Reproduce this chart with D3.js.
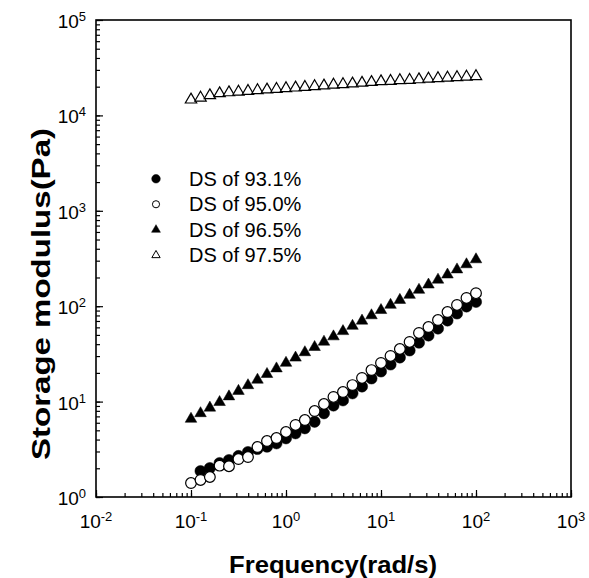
<!DOCTYPE html>
<html>
<head>
<meta charset="utf-8">
<script src="https://cdn.jsdelivr.net/npm/d3@7"></script>
<style>
body { margin: 0; background: #fff; }
text { font-family: Arial, "Liberation Sans", sans-serif; fill: #000; }
</style>
</head>
<body>
<svg id="chart" width="589" height="578"></svg>
<script>
// frequency (rad/s), 10 points per decade
const freq = [0.1, 0.126, 0.158, 0.2, 0.251, 0.316, 0.398, 0.501, 0.631, 0.794,
  1, 1.26, 1.58, 2, 2.51, 3.16, 3.98, 5.01, 6.31, 7.94,
  10, 12.6, 15.8, 20, 25.1, 31.6, 39.8, 50.1, 63.1, 79.4, 100];

// storage modulus (Pa)
const ds931 = [null, 1.87, 2.01, 2.27, 2.44, 2.69, 2.96, 3.19, 3.37, 3.65,
  4.12, 4.65, 5.25, 6.15, 7.54, 9.10, 10.3, 12.2, 14.4, 17.5,
  20.7, 24.5, 29.0, 34.4, 41.5, 49.3, 58.3, 70.8, 83.9, 99.3, 111];
const ds950 = [1.40, 1.51, 1.62, 2.13, 2.10, 2.50, 2.62, 3.34, 3.86, 4.15,
  4.80, 5.69, 6.41, 7.96, 9.44, 11.2, 12.6, 14.9, 17.7, 21.4,
  25.4, 30.1, 35.6, 42.2, 52.4, 60.5, 71.6, 86.9, 103, 122, 137];
const ds965 = [6.58, 7.53, 8.61, 9.86, 11.3, 12.9, 14.8, 16.9, 19.4, 22.2,
  25.4, 28.8, 32.8, 37.2, 42.3, 48.1, 54.6, 62.0, 70.3, 80.0,
  90.8, 103, 116, 131, 148, 168, 189, 214, 242, 274, 309];
const ds975 = [14600, 15300, 16200, 17000, 17400, 17700, 18000, 18300, 18600, 18900,
  19200, 19500, 19800, 20200, 20500, 20900, 21200, 21500, 21900, 22300,
  22700, 22900, 23300, 23500, 23800, 24200, 24500, 24800, 25100, 25400, 25700];

const seriesNames = ['DS of 93.1%', 'DS of 95.0%', 'DS of 96.5%', 'DS of 97.5%'];
const xMajor = [0.01, 0.1, 1, 10, 100, 1000];
const yMajor = [1, 10, 100, 1000, 10000, 100000];

const series = [
  { name: seriesNames[0], values: ds931, shape: d3.symbolCircle, filled: true, size: 100, legendSize: 58 },
  { name: seriesNames[1], values: ds950, shape: d3.symbolCircle, filled: false, size: 90, legendSize: 40 },
  { name: seriesNames[2], values: ds965, shape: d3.symbolTriangle, filled: true, size: 58, legendSize: 34 },
  { name: seriesNames[3], values: ds975, shape: d3.symbolTriangle, filled: false, size: 56, legendSize: 30 },
];

const svg = d3.select('#chart');
const x = d3.scaleLog().domain([0.01, 1000]).range([96, 571]);
const y = d3.scaleLog().domain([1, 1e5]).range([497, 20]);

// ticks, pointing inward
svg.append('g').attr('transform', 'translate(0,497)')
  .call(d3.axisBottom(x).tickValues(x.ticks()).tickSize(-4).tickSizeOuter(0).tickFormat(''));
svg.append('g').attr('transform', 'translate(0,497)')
  .call(d3.axisBottom(x).tickValues(xMajor).tickSize(-7).tickSizeOuter(0).tickFormat(''));
svg.append('g').attr('transform', 'translate(96,0)')
  .call(d3.axisLeft(y).tickValues(y.ticks()).tickSize(-4).tickSizeOuter(0).tickFormat(''));
svg.append('g').attr('transform', 'translate(96,0)')
  .call(d3.axisLeft(y).tickValues(yMajor).tickSize(-7).tickSizeOuter(0).tickFormat(''));
svg.selectAll('.domain').remove();
svg.selectAll('.tick line').attr('stroke', '#000').attr('stroke-width', 1.2);

svg.append('rect')
  .attr('x', 96).attr('y', 20)
  .attr('width', 475).attr('height', 477)
  .attr('fill', 'none').attr('stroke', '#000').attr('stroke-width', 1.6);

// power-of-ten labels
const expOf = v => Math.round(Math.log10(v));
const xl = svg.append('g').selectAll('text').data(xMajor).join('text')
  .attr('x', d => x(d)).attr('y', 528)
  .attr('text-anchor', 'middle').attr('font-size', 19);
xl.append('tspan').text('10');
xl.append('tspan').attr('dy', -7).attr('font-size', 13).text(d => expOf(d));

const yl = svg.append('g').selectAll('text').data(yMajor).join('text')
  .attr('x', 86).attr('y', d => y(d) + 8)
  .attr('text-anchor', 'end').attr('font-size', 19);
yl.append('tspan').text('10');
yl.append('tspan').attr('dy', -7).attr('font-size', 13).text(d => expOf(d));

// axis titles
svg.append('text')
  .attr('x', 333).attr('y', 573)
  .attr('text-anchor', 'middle')
  .attr('font-size', 24).attr('font-weight', 'bold')
  .attr('textLength', 208).attr('lengthAdjust', 'spacingAndGlyphs')
  .text('Frequency(rad/s)');
svg.append('text')
  .attr('transform', 'translate(50,294) rotate(-90)')
  .attr('text-anchor', 'middle')
  .attr('font-size', 25).attr('font-weight', 'bold')
  .attr('textLength', 332).attr('lengthAdjust', 'spacingAndGlyphs')
  .text('Storage modulus(Pa)');

// markers
series.forEach(s => {
  const pts = freq.map((f, i) => [f, s.values[i]]).filter(p => p[1] != null);
  svg.append('g').selectAll('path').data(pts).join('path')
    .attr('transform', d => `translate(${x(d[0])},${y(d[1])})`)
    .attr('d', d3.symbol().type(s.shape).size(s.size))
    .attr('fill', s.filled ? '#000' : '#fff')
    .attr('stroke', '#000')
    .attr('stroke-width', s.filled ? 0.5 : 1.2);
});

// legend
const legendY = d3.scaleBand().domain(seriesNames).range([166, 268]);
const lg = svg.append('g').selectAll('g').data(series).join('g')
  .attr('transform', d => `translate(156,${legendY(d.name) + legendY.bandwidth() / 2})`);
lg.append('path')
  .attr('d', d => d3.symbol().type(d.shape).size(d.legendSize)())
  .attr('fill', d => d.filled ? '#000' : '#fff')
  .attr('stroke', '#000')
  .attr('stroke-width', d => d.filled ? 0.5 : 1);
lg.append('text')
  .attr('x', 33).attr('dy', '0.35em')
  .attr('font-size', 20)
  .text(d => d.name);
</script>
</body>
</html>
